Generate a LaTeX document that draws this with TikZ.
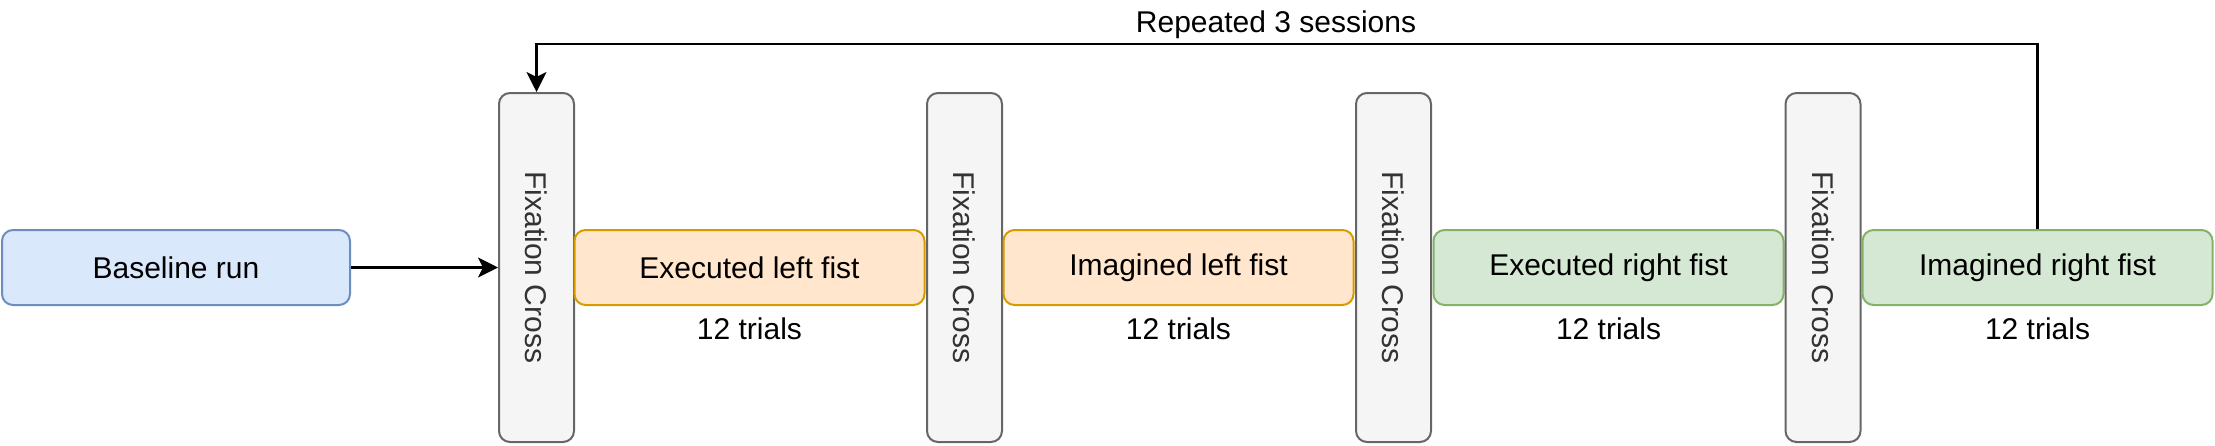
\documentclass[tikz,border=0pt]{standalone}
\usepackage{fontspec}
\setmainfont{Liberation Sans}
\usetikzlibrary{arrows.meta}
\definecolor{bfill}{HTML}{DAE8FC}\definecolor{bline}{HTML}{6C8EBF}
\definecolor{ofill}{HTML}{FFE6CC}\definecolor{oline}{HTML}{D79B00}
\definecolor{gfill}{HTML}{D5E8D4}\definecolor{gline}{HTML}{82B366}
\definecolor{xfill}{HTML}{F5F5F5}\definecolor{xline}{HTML}{666666}
\definecolor{xtext}{HTML}{333333}
\tikzset{
  box/.style={draw, rounded corners=5.5pt, line width=1pt, minimum width=175pt, minimum height=37.5pt, inner sep=0pt, font=\fontsize{15}{18}\selectfont},
  bluebox/.style={box, fill=bfill, draw=bline},
  orangebox/.style={box, fill=ofill, draw=oline},
  greenbox/.style={box, fill=gfill, draw=gline},
  fixbox/.style={draw=xline, fill=xfill, rounded corners=5.5pt, line width=1pt, minimum width=37.5pt, minimum height=174.5pt, inner sep=0pt},
  fixlabel/.style={rotate=-90, text=xtext, font=\fontsize{15}{18}\selectfont, inner sep=0pt},
  lbl/.style={font=\fontsize{15}{18}\selectfont, inner sep=0pt},
  conn/.style={line width=1.1pt, -{Stealth[length=10pt, width=10pt, inset=2.5pt]}}
}
\begin{document}
\begin{tikzpicture}[x=0.5pt, y=-0.5pt]
\useasboundingbox (0,0) rectangle (2215,445);
\node[bluebox, minimum width=174pt] (base) at (176,267.5) {Baseline run};
\node[fixbox] (fix1) at (536.5,267.5) {};
\node[fixlabel] (fix1t) at (fix1.center) {Fixation Cross};
\node[orangebox] (exl) at (749.5,267.5) {Executed left fist};
\node[fixbox] (fix2) at (964.5,267.5) {};
\node[fixlabel] (fix2t) at (fix2.center) {Fixation Cross};
\node[orangebox] (iml) at (1178.5,267.5) {Imagined left fist};
\node[fixbox] (fix3) at (1393.5,267.5) {};
\node[fixlabel] (fix3t) at (fix3.center) {Fixation Cross};
\node[greenbox] (exr) at (1608.5,267.5) {Executed right fist};
\node[fixbox] (fix4) at (1823,267.5) {};
\node[fixlabel] (fix4t) at (fix4.center) {Fixation Cross};
\node[greenbox] (imr) at (2037.5,267.5) {Imagined right fist};
\node[lbl] (t1) at (749.5,329) {12 trials};
\node[lbl] (t2) at (1178.5,329) {12 trials};
\node[lbl] (t3) at (1608.5,329) {12 trials};
\node[lbl] (t4) at (2037.5,329) {12 trials};
\node[lbl] (rep) at (1276,25) {Repeated 3 sessions};
\coordinate (top) at (1276,44);
\draw[conn] (base.east) -- (fix1.west);
\draw[conn] (imr.north) |- (top) -| (fix1.north);
\end{tikzpicture}
\end{document}
